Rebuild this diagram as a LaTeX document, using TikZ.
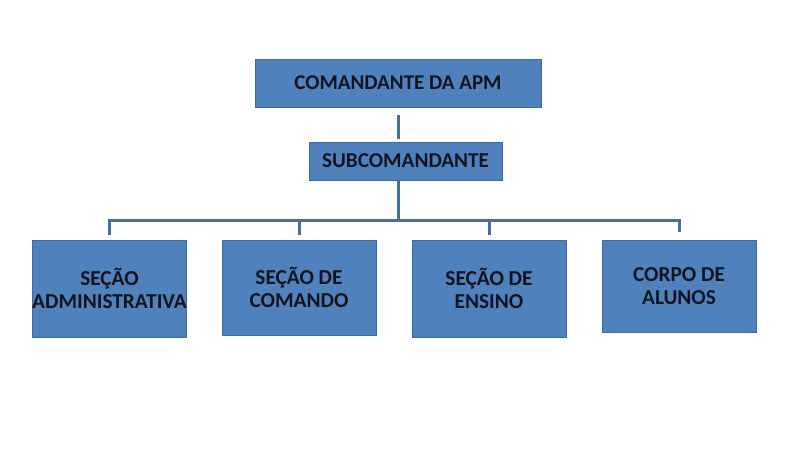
\documentclass[tikz,border=0pt]{standalone}
\usepackage{fontspec}
\setmainfont{Carlito}
\definecolor{boxfill}{HTML}{4F81BD}
\definecolor{boxedge}{HTML}{3D6A9E}
\definecolor{linecol}{HTML}{41709F}
\definecolor{txt}{HTML}{14141E}
\begin{document}
\begin{tikzpicture}[x=1pt,y=-1pt,
  orgbox/.style={draw=boxedge,line width=0.8pt,fill=boxfill,inner sep=0pt,align=center,
    text=txt,font=\bfseries\fontsize{21.3}{23.5}\selectfont},
  conn/.style={draw=linecol,line width=3pt}]
\useasboundingbox (0,0) rectangle (800,450);
\node[orgbox,minimum width=286pt,minimum height=48pt,font=\bfseries\fontsize{21}{24}\selectfont] (com) at (398,83) {COMANDANTE DA APM};
\node[orgbox,minimum width=193pt,minimum height=38pt,font=\bfseries\fontsize{21.2}{24}\selectfont] (sub) at (405.5,161) {SUBCOMANDANTE};
\node[orgbox,minimum width=153pt,minimum height=97pt] (b1) at (109.5,288.5) {SEÇÃO\\ADMINISTRATIVA};
\node[orgbox,minimum width=154pt,minimum height=95pt] (b2) at (299,287.5) {SEÇÃO DE\\COMANDO};
\node[orgbox,minimum width=154pt,minimum height=97pt] (b3) at (489,288.5) {SEÇÃO DE\\ENSINO};
\node[orgbox,minimum width=154pt,minimum height=92pt] (b4) at (679,286) {CORPO DE\\ALUNOS};
\coordinate (bus) at (398,220);
\draw[conn] ([yshift=-8pt]com.south) -- ([yshift=3pt]com.south |- sub.north);
\draw[conn] (com.south |- sub.south) -- (bus);
\draw[conn] (bus) -| ([yshift=5pt]b1.north);
\draw[conn] (bus) -| ([yshift=5pt]b2.north);
\draw[conn] (bus) -| ([yshift=5pt]b3.north);
\draw[conn] (bus) -| ([yshift=8pt]b4.north);
\end{tikzpicture}
\end{document}
